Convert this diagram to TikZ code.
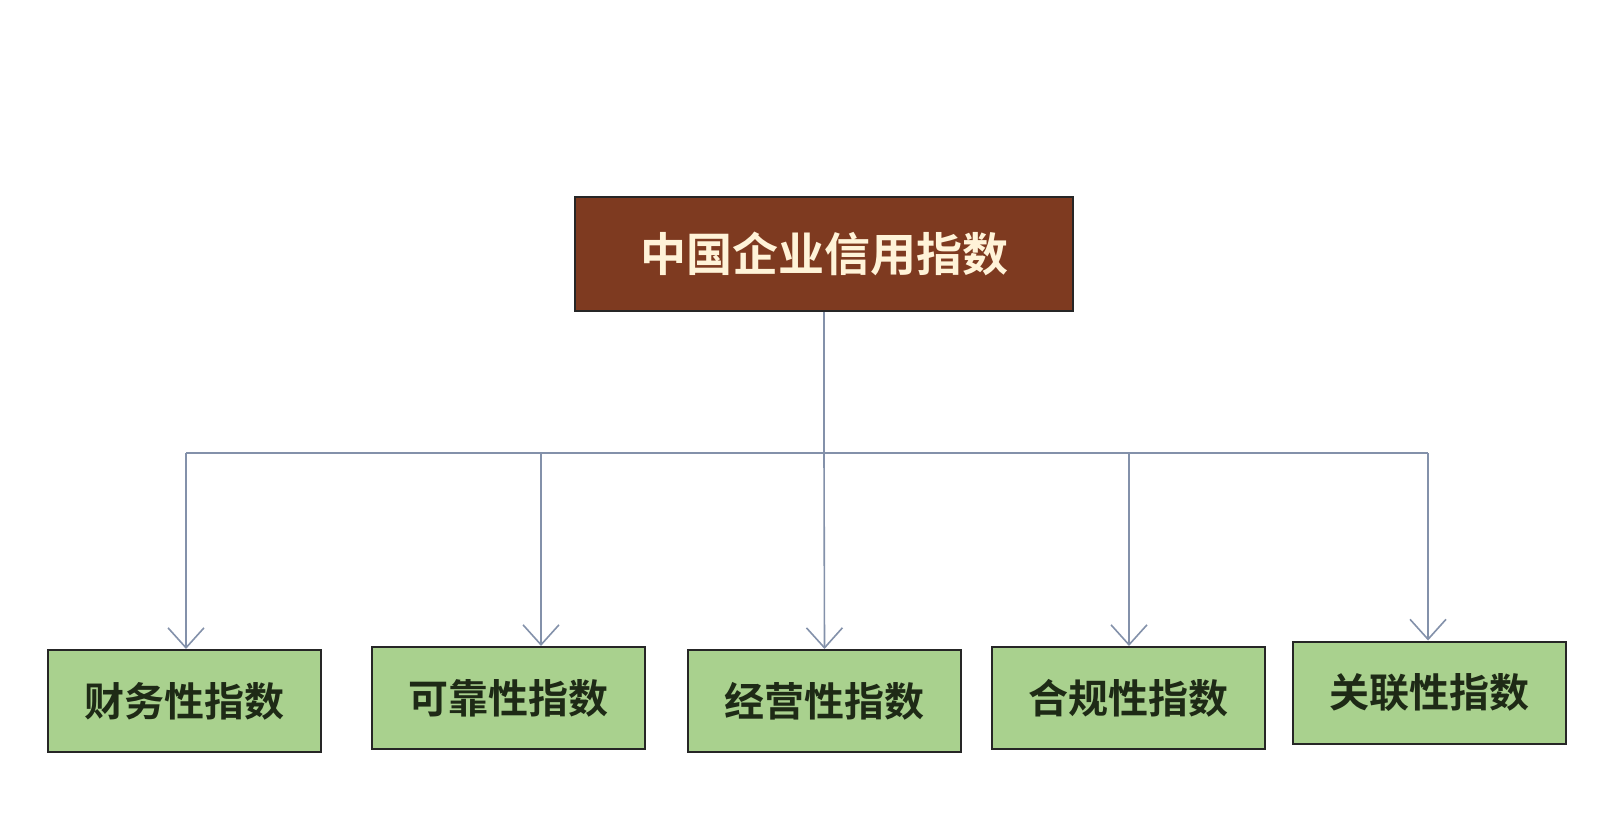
\documentclass[tikz,border=0pt]{standalone}
\usepackage{fontspec}
\newfontfamily\cjk{Noto Sans CJK SC}[BoldFont={Noto Sans CJK SC Bold}]
\usetikzlibrary{arrows.meta}
\definecolor{topfill}{HTML}{7E3A20}
\definecolor{topfg}{HTML}{FFF3D8}
\definecolor{subfill}{HTML}{A9D18E}
\definecolor{subfg}{HTML}{1E2A16}
\definecolor{linec}{HTML}{8391AA}
\begin{document}
\begin{tikzpicture}[x=1pt,y=-1pt,
  topbox/.style={draw=black!85, line width=2.5pt, fill=topfill, text=topfg, minimum width=498pt, minimum height=114pt, inner sep=0pt, font=\cjk\bfseries\fontsize{46}{50}\selectfont},
  subbox/.style={draw=black!85, line width=2pt, fill=subfill, text=subfg, minimum width=273pt, minimum height=102pt, inner sep=0pt, font=\cjk\bfseries\fontsize{40}{44}\selectfont},
  conn/.style={draw=linec, line width=1.6pt},
  arr/.style={conn, -{Straight Barb[length=20pt,width=36pt,line width=1.6pt]}}]
\useasboundingbox (0,0) rectangle (1608,834);
\fill[white] (0,0) rectangle (1608,834);
\node[topbox] (top) at (824,254) {中国企业信用指数};
\node[subbox] (s1) at (184,701) {\raisebox{4pt}{财务性指数}};
\node[subbox] (s2) at (508.5,698) {\raisebox{4pt}{可靠性指数}};
\node[subbox] (s3) at (824.5,701) {\raisebox{4pt}{经营性指数}};
\node[subbox] (s4) at (1128.5,698) {\raisebox{4pt}{合规性指数}};
\node[subbox] (s5) at (1429,692.5) {\raisebox{4pt}{关联性指数}};
\coordinate (j) at (824,453);
\coordinate (j1) at (186,453);
\coordinate (j2) at (541,453);
\coordinate (j4) at (1129,453);
\coordinate (j5) at (1428,453);
\draw[conn] (j1) -- (j5);
\draw[conn] (top.south) -- (j);
\draw[arr] (j1) -- (j1 |- s1.north);
\draw[arr] (j2) -- (j2 |- s2.north);
\draw[arr] (j) -- (s3.north);
\draw[arr] (j4) -- (j4 |- s4.north);
\draw[arr] (j5) -- (j5 |- s5.north);
\end{tikzpicture}
\end{document}
